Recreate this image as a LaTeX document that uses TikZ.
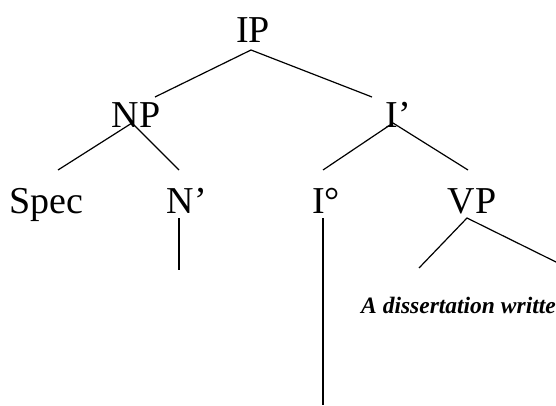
\documentclass[tikz,border=0pt]{standalone}
\usepackage{fontspec}
\setmainfont{Liberation Serif}
\usetikzlibrary{positioning}

\begin{document}
\begin{tikzpicture}[
    x=1pt, y=-1pt,
    cat/.style={inner sep=0pt, anchor=base, font=\fontsize{38}{40}\selectfont},
    gloss/.style={inner sep=0pt, anchor=base west, font=\fontsize{23.5}{25}\selectfont\bfseries\itshape},
    branch/.style={line width=1.2pt}
]
\useasboundingbox (0,0) rectangle (556,406);

% Labels
\node[cat] (ip) at (253,43) {IP};
\node[cat] (np) at (136,128) {NP};
\node[cat] (ibar) at (398,128) {I’};
\node[cat] (spec) at (46,213) {Spec};
\node[cat] (nbar) at (187,213) {N’};
\node[cat] (ideg) at (326,213) {I°};
\node[cat] (vp) at (472,213) {VP};
\node[gloss] (diss) at (361,313) {A dissertation writte};

% Branch points
\coordinate (ip-b) at (251,50);
\coordinate (np-t) at (155,97);
\coordinate (ibar-t) at (372,97);
\coordinate (np-b) at (132,123);
\coordinate (ibar-b) at (393,123);
\coordinate (spec-t) at (58,170);
\coordinate (nbar-t) at (179,170);
\coordinate (ideg-t) at (323,170);
\coordinate (vp-t) at (468,170);
\coordinate (nbar-b) at (179,218);
\coordinate (nbar-e) at (179,270);
\coordinate (ideg-b) at (323,218);
\coordinate (ideg-e) at (323,405);
\coordinate (vp-b) at (467,218);
\coordinate (vp-l) at (419,268);
\coordinate (vp-r) at (556,262);

% Branches
\draw[branch] (np-t) -- (ip-b) -- (ibar-t);
\draw[branch] (spec-t) -- (np-b) -- (nbar-t);
\draw[branch] (ideg-t) -- (ibar-b) -- (vp-t);
\draw[branch] (nbar-b) -- (nbar-e);
\draw[branch] (ideg-b) -- (ideg-e);
\draw[branch] (vp-l) -- (vp-b) -- (vp-r);

\end{tikzpicture}
\end{document}
